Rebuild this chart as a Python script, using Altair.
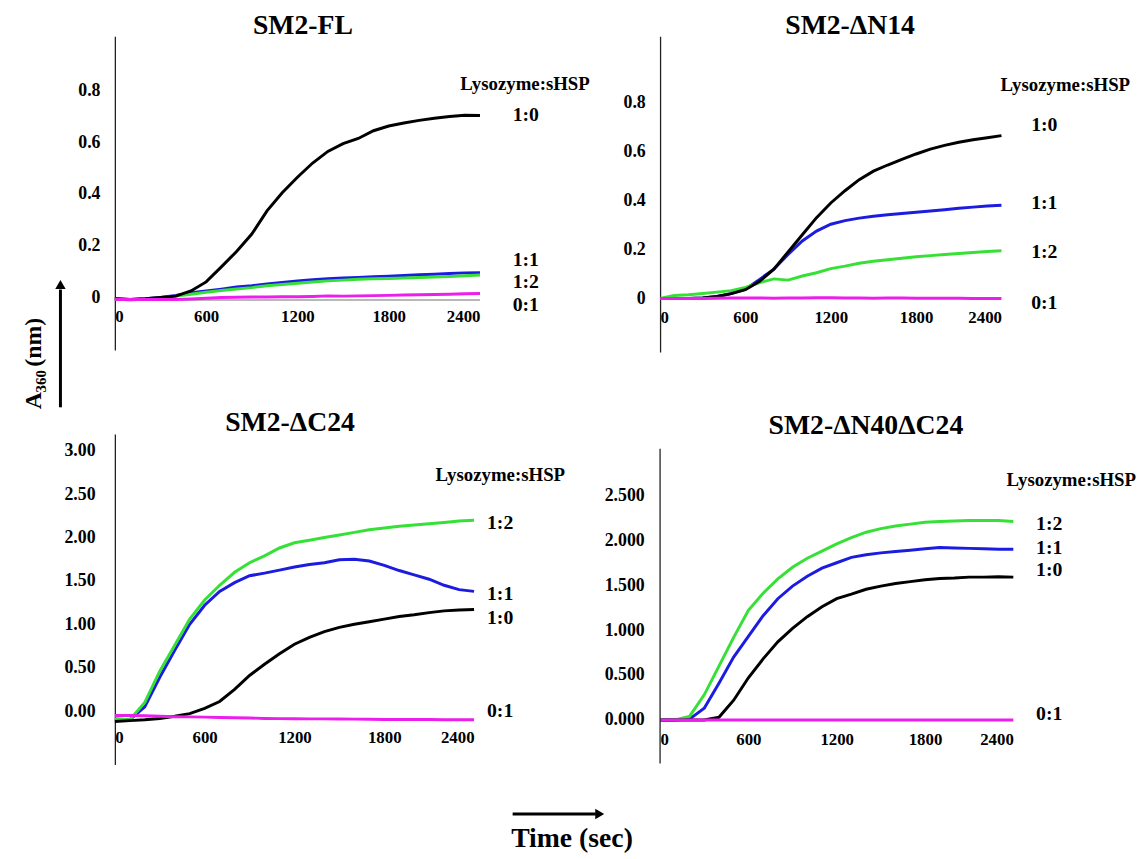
import altair as alt
import pandas as pd

FONT = "Liberation Serif"

# time grid (sec)
T = [0, 100, 200, 300, 400, 500, 600, 700, 800, 900, 1000, 1100, 1200,
     1300, 1400, 1500, 1600, 1700, 1800, 1900, 2000, 2100, 2200, 2300, 2400]

SERIES = ["1:1", "1:2", "1:0", "0:1"]
COLORS = {"1:0": "#000000", "1:1": "#1c1ce0", "1:2": "#36e036", "0:1": "#ec1eec"}

# SM2-FL
FL_10 = [-0.005, -0.008, -0.005, 0.0, 0.005, 0.025, 0.06, 0.118, 0.178, 0.245, 0.335, 0.405, 0.465,
         0.52, 0.565, 0.595, 0.615, 0.645, 0.663, 0.675, 0.685, 0.693, 0.70, 0.705, 0.704]
FL_11 = [-0.005, -0.008, -0.005, 0.0, 0.008, 0.018, 0.025, 0.032, 0.04, 0.045, 0.052, 0.058, 0.064,
         0.068, 0.072, 0.075, 0.077, 0.08, 0.082, 0.085, 0.088, 0.09, 0.093, 0.095, 0.096]
FL_12 = [-0.005, -0.01, -0.006, -0.002, 0.005, 0.012, 0.02, 0.027, 0.033, 0.038, 0.045, 0.05, 0.055,
         0.06, 0.064, 0.067, 0.07, 0.072, 0.073, 0.075, 0.077, 0.079, 0.081, 0.084, 0.087]
FL_01 = [-0.008, -0.008, -0.008, -0.008, -0.008, -0.006, -0.003, 0.0, 0.001, 0.002, 0.002, 0.003, 0.003,
         0.004, 0.006, 0.005, 0.006, 0.007, 0.008, 0.009, 0.01, 0.011, 0.012, 0.014, 0.015]
FL_AXIS = -0.01

# SM2-dN14
N14_10 = [0.0, 0.0, 0.0, 0.002, 0.008, 0.02, 0.036, 0.07, 0.12, 0.19, 0.26, 0.33, 0.39,
          0.44, 0.485, 0.52, 0.545, 0.568, 0.59, 0.61, 0.625, 0.638, 0.648, 0.656, 0.665]
N14_11 = [0.0, 0.0, 0.0, 0.002, 0.008, 0.02, 0.038, 0.078, 0.12, 0.18, 0.235, 0.275, 0.303,
          0.318, 0.328, 0.336, 0.342, 0.347, 0.352, 0.357, 0.362, 0.368, 0.373, 0.378, 0.381]
N14_12 = [0.0, 0.012, 0.015, 0.02, 0.026, 0.032, 0.045, 0.065, 0.08, 0.075, 0.092, 0.105, 0.122,
          0.132, 0.144, 0.152, 0.158, 0.164, 0.17, 0.175, 0.18, 0.184, 0.188, 0.192, 0.195]
N14_01 = [0.0, 0.0, 0.0, 0.0, 0.001, 0.002, 0.002, 0.002, 0.001, 0.002, 0.002, 0.003, 0.003,
          0.002, 0.002, 0.001, 0.002, 0.002, 0.001, 0.001, 0.001, 0.001, 0.0, 0.0, 0.0]

# SM2-dC24
C24_10 = [-0.12, -0.11, -0.1, -0.085, -0.06, -0.03, 0.03, 0.11, 0.25, 0.41, 0.54, 0.66, 0.77,
          0.85, 0.915, 0.965, 1.0, 1.03, 1.06, 1.09, 1.11, 1.135, 1.155, 1.165, 1.17]
C24_11 = [-0.09, -0.1, 0.05, 0.39, 0.7, 1.0, 1.22, 1.38, 1.48, 1.56, 1.59, 1.625, 1.66,
          1.69, 1.71, 1.745, 1.75, 1.73, 1.68, 1.62, 1.57, 1.52, 1.45, 1.4, 1.38]
C24_12 = [-0.09, -0.1, 0.1, 0.46, 0.76, 1.06, 1.28, 1.45, 1.6, 1.71, 1.79, 1.88, 1.94,
          1.97, 2.0, 2.03, 2.06, 2.09, 2.11, 2.13, 2.145, 2.16, 2.175, 2.19, 2.2]
C24_01 = [-0.05, -0.05, -0.055, -0.06, -0.065, -0.067, -0.07, -0.075, -0.077, -0.08, -0.085, -0.087, -0.088,
          -0.09, -0.09, -0.092, -0.093, -0.095, -0.096, -0.097, -0.098, -0.098, -0.1, -0.1, -0.1]

# SM2-dN40dC24
N40_10 = [0.0, 0.0, 0.0, 0.0, 0.03, 0.22, 0.47, 0.68, 0.87, 1.02, 1.15, 1.26, 1.35,
          1.4, 1.455, 1.49, 1.52, 1.54, 1.56, 1.575, 1.58, 1.59, 1.59, 1.595, 1.59]
N40_11 = [0.0, 0.0, 0.01, 0.13, 0.41, 0.7, 0.93, 1.16, 1.35, 1.49, 1.6, 1.69, 1.75,
          1.81, 1.84, 1.86, 1.875, 1.89, 1.905, 1.92, 1.915, 1.91, 1.905, 1.9, 1.9]
N40_12 = [0.0, 0.0, 0.04, 0.28, 0.6, 0.92, 1.22, 1.41, 1.57, 1.7, 1.8, 1.88, 1.96,
          2.03, 2.09, 2.13, 2.16, 2.18, 2.2, 2.21, 2.215, 2.22, 2.22, 2.22, 2.21]
N40_01 = [0.0] * 25

X_TICKS = [0, 600, 1200, 1800, 2400]
ONE = pd.DataFrame({"k": [0]})


def txt(text, x, y, size, align="left", baseline="middle", angle=0):
    kw = dict(text=text, align=align, baseline=baseline, font=FONT, fontWeight="bold",
              fontSize=size, color="black")
    if angle:
        kw["angle"] = angle
    return alt.Chart(ONE).mark_text(**kw).encode(x=alt.value(x), y=alt.value(y))


def panel(title, series, w, h, ymin, ymax, yvals, yfmt, xoff, xpad, ypad,
          title_pos, lyso_pos, ratio_x, ratio_y, axis_rule=None, extra=None):
    rows = []
    for s in SERIES:
        for t, v in zip(T, series[s]):
            rows.append({"t": t, "v": v, "s": s})
    df = pd.DataFrame(rows)
    xs = alt.Scale(domain=[0, 2400], nice=False, zero=False)
    ys = alt.Scale(domain=[ymin, ymax], nice=False, zero=False)
    xaxis = alt.Axis(values=X_TICKS, format="d", domain=False, ticks=False, tickSize=0, grid=False,
                     labelFont=FONT, labelFontWeight="bold", labelFontSize=17, labelColor="black",
                     labelPadding=xpad, offset=xoff, title=None, labelOverlap=False)
    yaxis = alt.Axis(values=yvals, format=yfmt, domain=axis_rule is None, domainColor="#222222",
                     domainWidth=1.3, ticks=False, tickSize=0, grid=False, labelFont=FONT,
                     labelFontWeight="bold", labelFontSize=18, labelColor="black",
                     labelPadding=ypad, title=None, labelOverlap=False)
    layers = []
    if extra is not None:
        for c in extra.get("under", []):
            layers.append(c)
    for s in SERIES:
        sub = df[df.s == s]
        layers.append(alt.Chart(sub).mark_line(strokeWidth=3, color=COLORS[s]).encode(
            x=alt.X("t:Q", scale=xs, axis=xaxis),
            y=alt.Y("v:Q", scale=ys, axis=yaxis),
        ))
    if axis_rule is not None:
        layers.append(alt.Chart(ONE).mark_rule(color="#222222", strokeWidth=1.3).encode(
            x=alt.value(0), y=alt.value(axis_rule[0]), y2=alt.value(axis_rule[1])))
    layers.append(txt(title, title_pos[0], title_pos[1], 28, align="center", baseline="alphabetic"))
    layers.append(txt("Lysozyme:sHSP", lyso_pos[0], lyso_pos[1], 19, align="right"))
    for lab, yy in ratio_y.items():
        layers.append(txt(lab, ratio_x, yy, 20))
    if extra is not None:
        layers += extra.get("over", [])
    return alt.layer(*layers).properties(width=w, height=h)


# gray x-axis line in first panel (data: 0..2400 at baseline)
fl_axis = alt.Chart(pd.DataFrame({"t0": [0], "t1": [2400], "v": [FL_AXIS]})).mark_rule(
    color="#b8b8b8", strokeWidth=2).encode(x="t0:Q", x2="t1:Q", y="v:Q")

# global y label + arrow (drawn in first panel's frame)
ylab = [
    txt("A", -75, 377, 24, align="left", baseline="alphabetic", angle=270),
    txt("360", -70, 360, 15, align="left", baseline="alphabetic", angle=270),
    txt("(nm)", -75, 334, 24, align="left", baseline="alphabetic", angle=270),
    alt.Chart(ONE).mark_rule(color="black", strokeWidth=3).encode(
        x=alt.value(-55), y=alt.value(256), y2=alt.value(375)),
    alt.Chart(ONE).mark_point(shape="triangle-up", filled=True, color="black", size=110, opacity=1).encode(
        x=alt.value(-55), y=alt.value(251)),
]
# global x label + arrow (drawn in third panel's frame)
xlab = [
    alt.Chart(ONE).mark_rule(color="black", strokeWidth=3).encode(
        x=alt.value(402), x2=alt.value(486), y=alt.value(384)),
    alt.Chart(ONE).mark_point(shape="triangle-right", filled=True, color="black", size=110, opacity=1).encode(
        x=alt.value(490), y=alt.value(384)),
    txt("Time (sec)", 462, 417, 28, align="center", baseline="alphabetic"),
]

p1 = panel("SM2-FL", {"1:0": FL_10, "1:1": FL_11, "1:2": FL_12, "0:1": FL_01},
           369, 317, -0.203, 1.0105, [0, 0.2, 0.4, 0.6, 0.8], "~g", -53, 11, 15,
           (190, -2), (480, 48), 402, {"1:0": 80, "1:1": 226, "1:2": 248, "0:1": 272},
           extra={"under": [fl_axis], "over": ylab})
p2 = panel("SM2-\u0394N14", {"1:0": N14_10, "1:1": N14_11, "1:2": N14_12, "0:1": N14_01},
           345, 319, -0.218, 1.0707, [0, 0.2, 0.4, 0.6, 0.8], "~g", -54, 11, 15,
           (192, -2), (475, 49), 375, {"1:0": 90, "1:1": 169, "1:2": 218, "0:1": 270})
p3 = panel("SM2-\u0394C24", {"1:0": C24_10, "1:1": C24_11, "1:2": C24_12, "0:1": C24_01},
           363, 334, -0.616, 3.194, [0, 0.5, 1.0, 1.5, 2.0, 2.5, 3.0], ".2f", -54, 19, 20,
           (177, -3), (455, 41), 376, {"1:2": 90, "1:1": 162, "1:0": 186, "0:1": 280},
           extra={"over": xlab})
p4 = panel("SM2-\u0394N40\u0394C24", {"1:0": N40_10, "1:1": N40_11, "1:2": N40_12, "0:1": N40_01},
           357, 333, -0.4846, 3.183, [0, 0.5, 1.0, 1.5, 2.0, 2.5], ".3f", -44, 12, 16,
           (208, 0), (481, 47), 380, {"1:2": 91, "1:1": 115, "1:0": 138, "0:1": 283},
           axis_rule=(15, 333))

chart = alt.concat(p1, p2, p3, p4, columns=2, spacing={"row": 83, "column": 182},
                   bounds="flush").properties(
    padding={"left": 14, "top": 0, "right": 2, "bottom": 5}
).configure_view(stroke=None)

chart.save("out.html", embed_options={"renderer": "svg", "actions": False})
